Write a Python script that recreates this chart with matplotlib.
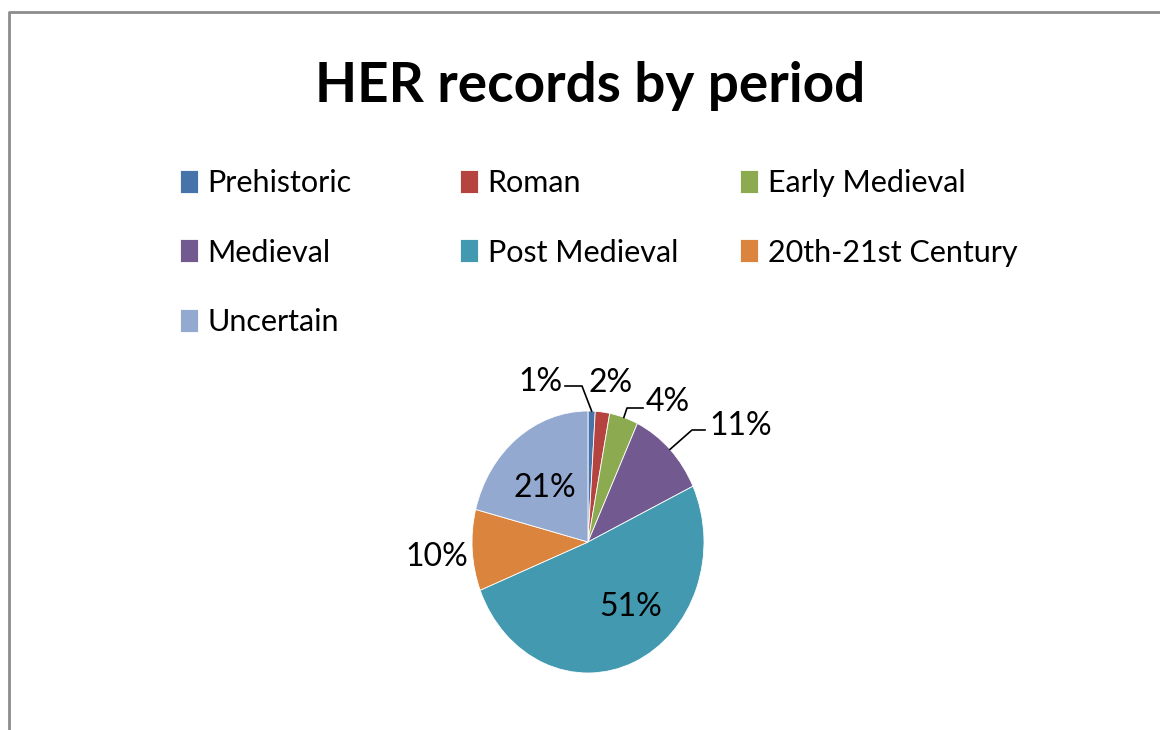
import matplotlib.pyplot as plt
import numpy as np
from matplotlib.lines import Line2D

periods = ['Prehistoric', 'Roman', 'Early Medieval', 'Medieval',
           'Post Medieval', '20th-21st Century', 'Uncertain']
shares = [1, 2, 4, 11, 51, 10, 21]
colors = ['#4573AA', '#B5433F', '#8CAA4F', '#72598F',
          '#4299B0', '#DB843D', '#94A9D0']

plt.rcParams['font.family'] = ['Lato', 'DejaVu Sans']

W, H = 1160, 730
fig = plt.figure(figsize=(W / 100, H / 100), dpi=100)

# outer chart border (left and top only show)
fig.add_artist(Line2D([9 / W, 9 / W, 1], [0, 1 - 12 / H, 1 - 12 / H],
                      color='#8c8c8c', lw=2, transform=fig.transFigure))

fig.text(590 / W, 1 - 86 / H, 'HER records by period', ha='center', va='center',
         fontsize=39.5, fontweight='bold')

# pie axes: ellipse, rx 116px, ry 131px, centre (588, 542)
cx, cy, rx, ry = 588, 542, 116, 131
ax = fig.add_axes([(cx - 1.25 * rx) / W, (H - cy - 1.25 * ry) / H,
                   2.5 * rx / W, 2.5 * ry / H])
wedges, _ = ax.pie(shares, colors=colors, startangle=90, counterclock=False,
                   wedgeprops=dict(edgecolor='white', linewidth=0.6))
ax.set_aspect('auto')
ax.set_xlim(-1.25, 1.25)
ax.set_ylim(-1.25, 1.25)

def px(x, y):
    return ((x - cx) / rx, (cy - y) / ry)

# label positions in pixels, optional elbow leader (elbow, end)
label_pos = [(540, 382), (611, 383), (668, 402), (741, 426),
             (631, 607), (437, 557), (545, 488)]
leaders = {0: [(582, 386), (565, 386)],
           2: [(627, 408), (643, 408)],
           3: [(692, 430), (705, 430)]}

for i, w in enumerate(wedges):
    tx, ty = px(*label_pos[i])
    ax.text(tx, ty, f'{shares[i]}%', ha='center', va='center', fontsize=23)
    if i in leaders:
        mid = np.deg2rad((w.theta1 + w.theta2) / 2)
        pts = [(np.cos(mid), np.sin(mid))] + [px(*p) for p in leaders[i]]
        xs, ys = zip(*pts)
        ax.plot(xs, ys, color='black', lw=1.2, clip_on=False)

# legend: three fixed-width columns
col_x = [180, 460, 740]
for c in range(3):
    idx = list(range(c, len(periods), 3))
    fig.legend([wedges[i] for i in idx], [periods[i] for i in idx],
               loc='upper left', bbox_to_anchor=(col_x[c] / W, 1 - 169 / H),
               frameon=False, fontsize=22, borderpad=0, borderaxespad=0,
               handlelength=0.6, handleheight=0.78, handletextpad=0.3,
               labelspacing=1.36)

fig.savefig('out.png', dpi=100)
